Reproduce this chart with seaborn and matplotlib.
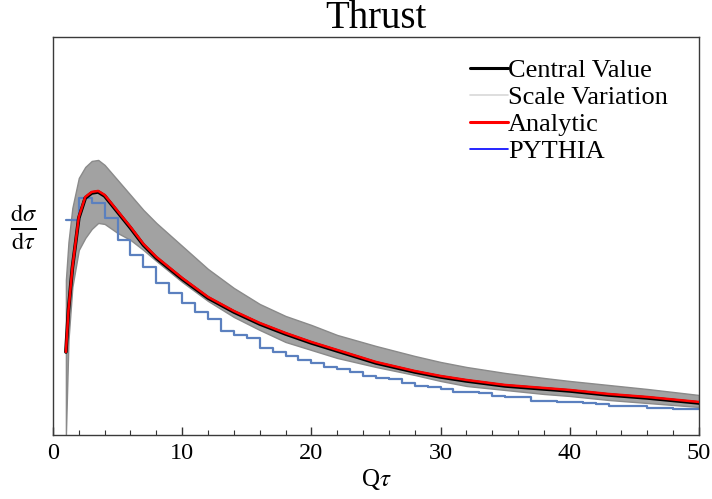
import numpy as np
import pandas as pd
import matplotlib
matplotlib.use("Agg")
import matplotlib.pyplot as plt
import seaborn as sns
from matplotlib.lines import Line2D

# Q*tau grid for the smooth curves
qtau = [1, 1.2, 1.5, 2, 2.5, 3, 3.5, 4, 5, 6, 7, 8, 10, 12, 14, 16, 18, 20,
        22, 25, 28, 30, 32, 35, 38, 40, 43, 46, 50]
# central value (arbitrary units)
central = [83, 125, 167, 217, 237, 242, 243, 239, 223, 207, 190, 177, 156, 137,
           123, 111, 101, 92, 84, 72, 63, 58, 54, 49, 46, 44, 40, 37, 32]
# analytic result, sits just on top of the central value
analytic = [83, 125, 167, 218, 238, 243, 244, 240, 224, 208, 191, 178, 157, 138,
            124, 112, 102, 93, 85, 73, 64, 59, 55, 50, 47, 45, 41, 38, 33]
# scale variation band
band_hi = [155, 193, 227, 257, 268, 274, 275, 270, 255, 240, 225, 212, 189, 166,
           147, 131, 119, 110, 100, 89, 79, 73, 68, 62, 57, 54, 50, 46, 40]
band_lo = [0, 95, 148, 185, 197, 206, 212, 211, 202, 195, 185, 174, 153, 134,
           118, 105, 93, 85, 77, 68, 60, 54, 49, 45, 41, 39, 35, 32, 28]

# PYTHIA histogram, unit bins from 1 to 50
pythia_edges = list(range(1, 51))
pythia = [215, 237, 232, 217, 195, 180, 168, 152, 142, 132, 123, 116, 104, 100,
          97, 87, 83, 79, 75, 72, 68, 66, 63, 59, 57, 56, 52, 49, 48, 46, 43,
          43, 42, 39, 38, 38, 34, 34, 33, 33, 32, 31, 29, 29, 29, 27, 27, 26, 26]

sns.set_theme(style="ticks")
plt.rcParams["font.family"] = ["Liberation Serif", "DejaVu Serif"]
plt.rcParams["mathtext.fontset"] = "stix"
plt.rcParams["text.color"] = "black"
plt.rcParams["axes.labelcolor"] = "black"
plt.rcParams["xtick.labelcolor"] = "black"

fig = plt.figure(figsize=(7.12, 4.99), dpi=100)
ax = fig.add_axes([0.0744, 0.1283, 0.9073, 0.7977])

curves = pd.DataFrame({"qtau": qtau, "central": central, "analytic": analytic})

ax.fill_between(qtau, band_lo, band_hi, facecolor="#a2a2a2", edgecolor="#8a8a8a",
                linewidth=1.0, zorder=1)

centers = [e + 0.5 for e in pythia_edges[:-1]]
sns.histplot(x=centers, weights=pythia, bins=pythia_edges, element="step",
             fill=False, color="#5b80bf", linewidth=1.6, ax=ax, zorder=2)

sns.lineplot(data=curves, x="qtau", y="central", color="black", linewidth=2.6,
             ax=ax, zorder=3)
sns.lineplot(data=curves, x="qtau", y="analytic", color="#ff0000", linewidth=1.8,
             ax=ax, zorder=4)

ax.set_xlim(0, 50)
ax.set_ylim(0, 398)
ax.set_xticks([0, 10, 20, 30, 40, 50])
ax.set_xticks(np.arange(0, 51, 2), minor=True)
ax.set_yticks([])
ax.tick_params(axis="x", which="major", direction="in", length=6, width=1,
               color="#333333", labelsize=17.5, pad=6)
ax.tick_params(axis="x", which="minor", direction="in", length=3.5, width=0.8,
               color="#333333")
for s in ax.spines.values():
    s.set_color("#3a3a3a")
    s.set_linewidth(1.0)

ax.set_title("Thrust", fontsize=28, pad=4)
ax.set_xlabel(r"Q$\tau$", fontsize=18, labelpad=2)
ax.set_ylabel(r"$\frac{\mathrm{d}\sigma}{\mathrm{d}\tau}$", fontsize=25, rotation=0)
ax.yaxis.set_label_coords(-0.045, 0.46)

handles = [
    Line2D([], [], color="black", linewidth=2.2),
    Line2D([], [], color="#d8d8d8", linewidth=1.2),
    Line2D([], [], color="#ff0000", linewidth=2.2),
    Line2D([], [], color="#0000ff", linewidth=1.2),
]
labels = ["Central Value", "Scale Variation", "Analytic", "PYTHIA"]
ax.legend(handles, labels, loc="upper left", bbox_to_anchor=(0.645, 0.945),
          frameon=False, fontsize=19, handlelength=1.45, handletextpad=0.0,
          labelspacing=0.13, borderpad=0, borderaxespad=0)

fig.savefig("out.png", dpi=100)
